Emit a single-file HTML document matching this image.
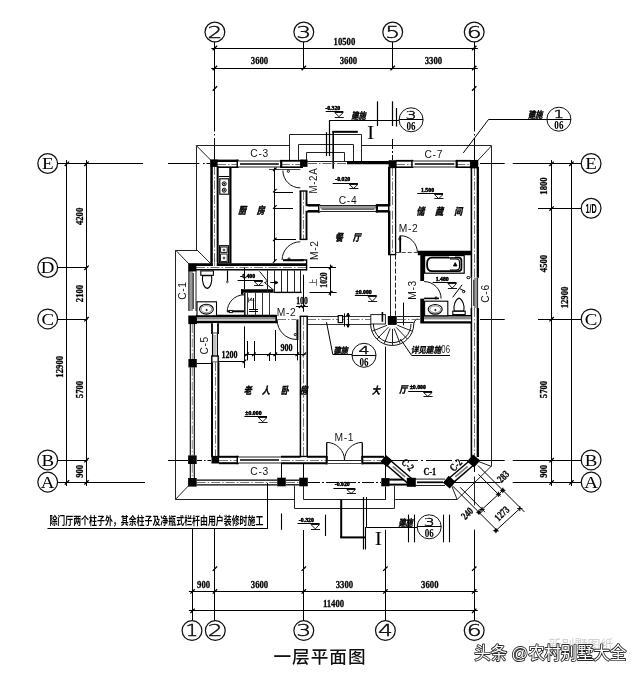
<!DOCTYPE html>
<html lang="zh"><head><meta charset="utf-8"><title>一层平面图</title>
<style>html,body{margin:0;padding:0;background:#fff}svg{display:block}</style></head>
<body><svg width="640" height="675" viewBox="0 0 640 675">
<defs><filter id="g" x="0" y="0" width="640" height="675" filterUnits="userSpaceOnUse" color-interpolation-filters="sRGB"><feColorMatrix type="saturate" values="0"/></filter></defs>
<rect width="640" height="675" fill="#fff"/>
<g filter="url(#g)">
<line x1="211.3" y1="48.5" x2="477.8" y2="48.5" stroke="#000" stroke-width="1"/>
<line x1="211.3" y1="68.5" x2="477.8" y2="68.5" stroke="#000" stroke-width="1"/>
<line x1="212.70000000000002" y1="70.2" x2="217.1" y2="65.8" stroke="#000" stroke-width="1.3"/>
<line x1="301.6" y1="70.2" x2="306.0" y2="65.8" stroke="#000" stroke-width="1.3"/>
<line x1="390.5" y1="70.2" x2="394.9" y2="65.8" stroke="#000" stroke-width="1.3"/>
<line x1="472.0" y1="70.2" x2="476.4" y2="65.8" stroke="#000" stroke-width="1.3"/>
<line x1="212.70000000000002" y1="50.2" x2="217.1" y2="45.8" stroke="#000" stroke-width="1.3"/>
<line x1="212.70000000000002" y1="90.7" x2="217.1" y2="86.3" stroke="#000" stroke-width="1.3"/>
<line x1="472.0" y1="50.2" x2="476.4" y2="45.8" stroke="#000" stroke-width="1.3"/>
<line x1="472.0" y1="90.7" x2="476.4" y2="86.3" stroke="#000" stroke-width="1.3"/>
<line x1="214.5" y1="41.5" x2="214.5" y2="131.5" stroke="#000" stroke-width="1"/>
<line x1="214.5" y1="134" x2="214.5" y2="135.5" stroke="#000" stroke-width="1"/>
<line x1="214.5" y1="138" x2="214.5" y2="160" stroke="#000" stroke-width="1"/>
<line x1="303.5" y1="41.5" x2="303.5" y2="68.5" stroke="#000" stroke-width="1"/>
<line x1="392.5" y1="41.5" x2="392.5" y2="68.5" stroke="#000" stroke-width="1"/>
<line x1="474.5" y1="41.5" x2="474.5" y2="131.5" stroke="#000" stroke-width="1"/>
<line x1="474.5" y1="134" x2="474.5" y2="135.5" stroke="#000" stroke-width="1"/>
<line x1="474.5" y1="138" x2="474.5" y2="160" stroke="#000" stroke-width="1"/>
<circle cx="214.9" cy="32" r="9.9" stroke="#111" stroke-width="1.25" fill="#fff"/>
<text transform="translate(214.9 37.7) scale(1.5 1)" font-family="&quot;DejaVu Sans&quot;,sans-serif" font-size="15.6" font-weight="200" font-style="normal" text-anchor="middle" fill="#000" stroke="#111" stroke-width="0.45">2</text>
<circle cx="303.8" cy="32" r="9.9" stroke="#111" stroke-width="1.25" fill="#fff"/>
<text transform="translate(303.8 37.7) scale(1.5 1)" font-family="&quot;DejaVu Sans&quot;,sans-serif" font-size="15.6" font-weight="200" font-style="normal" text-anchor="middle" fill="#000" stroke="#111" stroke-width="0.45">3</text>
<circle cx="392.7" cy="32" r="9.9" stroke="#111" stroke-width="1.25" fill="#fff"/>
<text transform="translate(392.7 37.7) scale(1.5 1)" font-family="&quot;DejaVu Sans&quot;,sans-serif" font-size="15.6" font-weight="200" font-style="normal" text-anchor="middle" fill="#000" stroke="#111" stroke-width="0.45">5</text>
<circle cx="474.2" cy="32" r="9.9" stroke="#111" stroke-width="1.25" fill="#fff"/>
<text transform="translate(474.2 37.7) scale(1.5 1)" font-family="&quot;DejaVu Sans&quot;,sans-serif" font-size="15.6" font-weight="200" font-style="normal" text-anchor="middle" fill="#000" stroke="#111" stroke-width="0.45">6</text>
<text transform="translate(344.4 44.5) scale(0.77 1)" font-family="&quot;Liberation Serif&quot;,&quot;Noto Serif CJK SC&quot;,serif" font-size="11.3" font-weight="bold" font-style="normal" text-anchor="middle" fill="#000" stroke="#000" stroke-width="0.3">10500</text>
<text transform="translate(259.5 64.3) scale(0.77 1)" font-family="&quot;Liberation Serif&quot;,&quot;Noto Serif CJK SC&quot;,serif" font-size="11.3" font-weight="bold" font-style="normal" text-anchor="middle" fill="#000" stroke="#000" stroke-width="0.3">3600</text>
<text transform="translate(348.4 64.3) scale(0.77 1)" font-family="&quot;Liberation Serif&quot;,&quot;Noto Serif CJK SC&quot;,serif" font-size="11.3" font-weight="bold" font-style="normal" text-anchor="middle" fill="#000" stroke="#000" stroke-width="0.3">3600</text>
<text transform="translate(433.4 64.3) scale(0.77 1)" font-family="&quot;Liberation Serif&quot;,&quot;Noto Serif CJK SC&quot;,serif" font-size="11.3" font-weight="bold" font-style="normal" text-anchor="middle" fill="#000" stroke="#000" stroke-width="0.3">3300</text>
<line x1="188.9" y1="591.5" x2="477.8" y2="591.5" stroke="#000" stroke-width="1"/>
<line x1="188.9" y1="610.5" x2="477.8" y2="610.5" stroke="#000" stroke-width="1"/>
<line x1="190.4" y1="593.6" x2="194.79999999999998" y2="589.1999999999999" stroke="#000" stroke-width="1.3"/>
<line x1="212.70000000000002" y1="593.6" x2="217.1" y2="589.1999999999999" stroke="#000" stroke-width="1.3"/>
<line x1="301.6" y1="593.6" x2="306.0" y2="589.1999999999999" stroke="#000" stroke-width="1.3"/>
<line x1="383.2" y1="593.6" x2="387.59999999999997" y2="589.1999999999999" stroke="#000" stroke-width="1.3"/>
<line x1="472.0" y1="593.6" x2="476.4" y2="589.1999999999999" stroke="#000" stroke-width="1.3"/>
<line x1="190.4" y1="613.0" x2="194.79999999999998" y2="608.5999999999999" stroke="#000" stroke-width="1.3"/>
<line x1="472.0" y1="613.0" x2="476.4" y2="608.5999999999999" stroke="#000" stroke-width="1.3"/>
<line x1="212.70000000000002" y1="570.9000000000001" x2="217.1" y2="566.5" stroke="#000" stroke-width="1.3"/>
<line x1="301.6" y1="570.9000000000001" x2="306.0" y2="566.5" stroke="#000" stroke-width="1.3"/>
<line x1="383.2" y1="570.9000000000001" x2="387.59999999999997" y2="566.5" stroke="#000" stroke-width="1.3"/>
<line x1="472.0" y1="570.9000000000001" x2="476.4" y2="566.5" stroke="#000" stroke-width="1.3"/>
<line x1="192.5" y1="529" x2="192.5" y2="621" stroke="#000" stroke-width="1"/>
<line x1="214.5" y1="529" x2="214.5" y2="621" stroke="#000" stroke-width="1"/>
<line x1="303.5" y1="530" x2="303.5" y2="621" stroke="#000" stroke-width="1"/>
<line x1="385.5" y1="529.8" x2="385.5" y2="621" stroke="#000" stroke-width="1"/>
<line x1="474.5" y1="529.6" x2="474.5" y2="621" stroke="#000" stroke-width="1"/>
<circle cx="192.0" cy="630.6" r="9.9" stroke="#111" stroke-width="1.25" fill="#fff"/>
<text transform="translate(192.0 636.3000000000001) scale(1.3 1)" font-family="&quot;DejaVu Sans&quot;,sans-serif" font-size="15.6" font-weight="200" font-style="normal" text-anchor="middle" fill="#000" stroke="#111" stroke-width="0.45">1</text>
<circle cx="215.3" cy="630.6" r="9.9" stroke="#111" stroke-width="1.25" fill="#fff"/>
<text transform="translate(215.3 636.3000000000001) scale(1.5 1)" font-family="&quot;DejaVu Sans&quot;,sans-serif" font-size="15.6" font-weight="200" font-style="normal" text-anchor="middle" fill="#000" stroke="#111" stroke-width="0.45">2</text>
<circle cx="303.8" cy="630.6" r="9.9" stroke="#111" stroke-width="1.25" fill="#fff"/>
<text transform="translate(303.8 636.3000000000001) scale(1.5 1)" font-family="&quot;DejaVu Sans&quot;,sans-serif" font-size="15.6" font-weight="200" font-style="normal" text-anchor="middle" fill="#000" stroke="#111" stroke-width="0.45">3</text>
<circle cx="385.4" cy="630.6" r="9.9" stroke="#111" stroke-width="1.25" fill="#fff"/>
<text transform="translate(385.4 636.3000000000001) scale(1.5 1)" font-family="&quot;DejaVu Sans&quot;,sans-serif" font-size="15.6" font-weight="200" font-style="normal" text-anchor="middle" fill="#000" stroke="#111" stroke-width="0.45">4</text>
<circle cx="474.2" cy="630.6" r="9.9" stroke="#111" stroke-width="1.25" fill="#fff"/>
<text transform="translate(474.2 636.3000000000001) scale(1.5 1)" font-family="&quot;DejaVu Sans&quot;,sans-serif" font-size="15.6" font-weight="200" font-style="normal" text-anchor="middle" fill="#000" stroke="#111" stroke-width="0.45">6</text>
<text transform="translate(203.6 587.8) scale(0.77 1)" font-family="&quot;Liberation Serif&quot;,&quot;Noto Serif CJK SC&quot;,serif" font-size="11.3" font-weight="bold" font-style="normal" text-anchor="middle" fill="#000" stroke="#000" stroke-width="0.3">900</text>
<text transform="translate(259.5 587.8) scale(0.77 1)" font-family="&quot;Liberation Serif&quot;,&quot;Noto Serif CJK SC&quot;,serif" font-size="11.3" font-weight="bold" font-style="normal" text-anchor="middle" fill="#000" stroke="#000" stroke-width="0.3">3600</text>
<text transform="translate(344.4 587.8) scale(0.77 1)" font-family="&quot;Liberation Serif&quot;,&quot;Noto Serif CJK SC&quot;,serif" font-size="11.3" font-weight="bold" font-style="normal" text-anchor="middle" fill="#000" stroke="#000" stroke-width="0.3">3300</text>
<text transform="translate(429.8 587.8) scale(0.77 1)" font-family="&quot;Liberation Serif&quot;,&quot;Noto Serif CJK SC&quot;,serif" font-size="11.3" font-weight="bold" font-style="normal" text-anchor="middle" fill="#000" stroke="#000" stroke-width="0.3">3600</text>
<text transform="translate(333.5 607) scale(0.77 1)" font-family="&quot;Liberation Serif&quot;,&quot;Noto Serif CJK SC&quot;,serif" font-size="11.3" font-weight="bold" font-style="normal" text-anchor="middle" fill="#000" stroke="#000" stroke-width="0.3">11400</text>
<line x1="66.5" y1="160.10000000000002" x2="66.5" y2="486.0" stroke="#000" stroke-width="1"/>
<line x1="86.5" y1="160.10000000000002" x2="86.5" y2="486.0" stroke="#000" stroke-width="1"/>
<line x1="84.3" y1="166.0" x2="88.7" y2="161.60000000000002" stroke="#000" stroke-width="1.3"/>
<line x1="84.3" y1="270.0" x2="88.7" y2="265.6" stroke="#000" stroke-width="1.3"/>
<line x1="84.3" y1="321.4" x2="88.7" y2="317.0" stroke="#000" stroke-width="1.3"/>
<line x1="84.3" y1="462.4" x2="88.7" y2="458.0" stroke="#000" stroke-width="1.3"/>
<line x1="84.3" y1="484.59999999999997" x2="88.7" y2="480.2" stroke="#000" stroke-width="1.3"/>
<line x1="64.7" y1="166.0" x2="69.10000000000001" y2="161.60000000000002" stroke="#000" stroke-width="1.3"/>
<line x1="64.7" y1="484.59999999999997" x2="69.10000000000001" y2="480.2" stroke="#000" stroke-width="1.3"/>
<line x1="57.5" y1="163.5" x2="143" y2="163.5" stroke="#000" stroke-width="1"/>
<line x1="168" y1="163.5" x2="199.4" y2="163.5" stroke="#000" stroke-width="1"/>
<line x1="203" y1="163.5" x2="204.6" y2="163.5" stroke="#000" stroke-width="1"/>
<line x1="206.5" y1="163.5" x2="210" y2="163.5" stroke="#000" stroke-width="1"/>
<line x1="57.5" y1="267.5" x2="87.5" y2="267.5" stroke="#000" stroke-width="1"/>
<line x1="57.5" y1="319.5" x2="87.5" y2="319.5" stroke="#000" stroke-width="1"/>
<line x1="57.5" y1="460.5" x2="87.5" y2="460.5" stroke="#000" stroke-width="1"/>
<line x1="168" y1="460.5" x2="188" y2="460.5" stroke="#000" stroke-width="1"/>
<line x1="57.5" y1="482.5" x2="145" y2="482.5" stroke="#000" stroke-width="1"/>
<circle cx="47.7" cy="163.5" r="9.9" stroke="#111" stroke-width="1.25" fill="#fff"/>
<text transform="translate(47.7 169.3) scale(1.1 1)" font-family="&quot;Liberation Serif&quot;,&quot;Noto Serif CJK SC&quot;,serif" font-size="17.2" font-weight="normal" font-style="normal" text-anchor="middle" fill="#000">E</text>
<circle cx="47.7" cy="267.5" r="9.9" stroke="#111" stroke-width="1.25" fill="#fff"/>
<text transform="translate(47.7 273.3) scale(1.1 1)" font-family="&quot;Liberation Serif&quot;,&quot;Noto Serif CJK SC&quot;,serif" font-size="17.2" font-weight="normal" font-style="normal" text-anchor="middle" fill="#000">D</text>
<circle cx="47.7" cy="318.9" r="9.9" stroke="#111" stroke-width="1.25" fill="#fff"/>
<text transform="translate(47.7 324.7) scale(1.1 1)" font-family="&quot;Liberation Serif&quot;,&quot;Noto Serif CJK SC&quot;,serif" font-size="17.2" font-weight="normal" font-style="normal" text-anchor="middle" fill="#000">C</text>
<circle cx="47.7" cy="459.9" r="9.9" stroke="#111" stroke-width="1.25" fill="#fff"/>
<text transform="translate(47.7 465.7) scale(1.1 1)" font-family="&quot;Liberation Serif&quot;,&quot;Noto Serif CJK SC&quot;,serif" font-size="17.2" font-weight="normal" font-style="normal" text-anchor="middle" fill="#000">B</text>
<circle cx="47.7" cy="482.09999999999997" r="9.9" stroke="#111" stroke-width="1.25" fill="#fff"/>
<text transform="translate(47.7 487.9) scale(1.1 1)" font-family="&quot;Liberation Serif&quot;,&quot;Noto Serif CJK SC&quot;,serif" font-size="17.2" font-weight="normal" font-style="normal" text-anchor="middle" fill="#000">A</text>
<text transform="translate(82.5 216.4) rotate(-90) scale(0.77 1)" font-family="&quot;Liberation Serif&quot;,&quot;Noto Serif CJK SC&quot;,serif" font-size="11.3" font-weight="bold" font-style="normal" text-anchor="middle" fill="#000" stroke="#000" stroke-width="0.3">4200</text>
<text transform="translate(82.5 293.5) rotate(-90) scale(0.77 1)" font-family="&quot;Liberation Serif&quot;,&quot;Noto Serif CJK SC&quot;,serif" font-size="11.3" font-weight="bold" font-style="normal" text-anchor="middle" fill="#000" stroke="#000" stroke-width="0.3">2100</text>
<text transform="translate(82.5 389.5) rotate(-90) scale(0.77 1)" font-family="&quot;Liberation Serif&quot;,&quot;Noto Serif CJK SC&quot;,serif" font-size="11.3" font-weight="bold" font-style="normal" text-anchor="middle" fill="#000" stroke="#000" stroke-width="0.3">5700</text>
<text transform="translate(82.5 471.3) rotate(-90) scale(0.77 1)" font-family="&quot;Liberation Serif&quot;,&quot;Noto Serif CJK SC&quot;,serif" font-size="11.3" font-weight="bold" font-style="normal" text-anchor="middle" fill="#000" stroke="#000" stroke-width="0.3">900</text>
<text transform="translate(62.8 366.8) rotate(-90) scale(0.77 1)" font-family="&quot;Liberation Serif&quot;,&quot;Noto Serif CJK SC&quot;,serif" font-size="11.3" font-weight="bold" font-style="normal" text-anchor="middle" fill="#000" stroke="#000" stroke-width="0.3">12900</text>
<line x1="551.5" y1="160.10000000000002" x2="551.5" y2="486.0" stroke="#000" stroke-width="1"/>
<line x1="571.5" y1="160.10000000000002" x2="571.5" y2="486.0" stroke="#000" stroke-width="1"/>
<line x1="549.4" y1="166.0" x2="553.8000000000001" y2="161.60000000000002" stroke="#000" stroke-width="1.3"/>
<line x1="549.4" y1="210.79999999999998" x2="553.8000000000001" y2="206.4" stroke="#000" stroke-width="1.3"/>
<line x1="549.4" y1="321.4" x2="553.8000000000001" y2="317.0" stroke="#000" stroke-width="1.3"/>
<line x1="549.4" y1="462.4" x2="553.8000000000001" y2="458.0" stroke="#000" stroke-width="1.3"/>
<line x1="549.4" y1="484.59999999999997" x2="553.8000000000001" y2="480.2" stroke="#000" stroke-width="1.3"/>
<line x1="569.1999999999999" y1="166.0" x2="573.6" y2="161.60000000000002" stroke="#000" stroke-width="1.3"/>
<line x1="569.1999999999999" y1="484.59999999999997" x2="573.6" y2="480.2" stroke="#000" stroke-width="1.3"/>
<line x1="512.7" y1="163.5" x2="581" y2="163.5" stroke="#000" stroke-width="1"/>
<line x1="480" y1="163.5" x2="504.7" y2="163.5" stroke="#000" stroke-width="1"/>
<line x1="538" y1="208.5" x2="581" y2="208.5" stroke="#000" stroke-width="1"/>
<line x1="538" y1="319.5" x2="581" y2="319.5" stroke="#000" stroke-width="1"/>
<line x1="480" y1="319.5" x2="504.7" y2="319.5" stroke="#000" stroke-width="1"/>
<line x1="512.7" y1="460.5" x2="581" y2="460.5" stroke="#000" stroke-width="1"/>
<line x1="479" y1="460.5" x2="504.7" y2="460.5" stroke="#000" stroke-width="1"/>
<line x1="512.7" y1="482.5" x2="581" y2="482.5" stroke="#000" stroke-width="1"/>
<line x1="454" y1="482.5" x2="500.3" y2="482.5" stroke="#000" stroke-width="1"/>
<circle cx="591.1" cy="163.5" r="9.9" stroke="#111" stroke-width="1.25" fill="#fff"/>
<text transform="translate(591.1 169.3) scale(1.1 1)" font-family="&quot;Liberation Serif&quot;,&quot;Noto Serif CJK SC&quot;,serif" font-size="17.2" font-weight="normal" font-style="normal" text-anchor="middle" fill="#000">E</text>
<circle cx="591.1" cy="318.9" r="9.9" stroke="#111" stroke-width="1.25" fill="#fff"/>
<text transform="translate(591.1 324.7) scale(1.1 1)" font-family="&quot;Liberation Serif&quot;,&quot;Noto Serif CJK SC&quot;,serif" font-size="17.2" font-weight="normal" font-style="normal" text-anchor="middle" fill="#000">C</text>
<circle cx="591.1" cy="459.9" r="9.9" stroke="#111" stroke-width="1.25" fill="#fff"/>
<text transform="translate(591.1 465.7) scale(1.1 1)" font-family="&quot;Liberation Serif&quot;,&quot;Noto Serif CJK SC&quot;,serif" font-size="17.2" font-weight="normal" font-style="normal" text-anchor="middle" fill="#000">B</text>
<circle cx="591.1" cy="482.09999999999997" r="9.9" stroke="#111" stroke-width="1.25" fill="#fff"/>
<text transform="translate(591.1 487.9) scale(1.1 1)" font-family="&quot;Liberation Serif&quot;,&quot;Noto Serif CJK SC&quot;,serif" font-size="17.2" font-weight="normal" font-style="normal" text-anchor="middle" fill="#000">A</text>
<circle cx="591.1" cy="208.29999999999998" r="9.9" stroke="#111" stroke-width="1.25" fill="#fff"/>
<text transform="translate(591.1 212.6) scale(0.6 1)" font-family="&quot;Liberation Sans&quot;,&quot;Noto Sans CJK SC&quot;,sans-serif" font-size="12" font-weight="bold" font-style="normal" text-anchor="middle" fill="#000">1/D</text>
<text transform="translate(547.4 186) rotate(-90) scale(0.77 1)" font-family="&quot;Liberation Serif&quot;,&quot;Noto Serif CJK SC&quot;,serif" font-size="11.3" font-weight="bold" font-style="normal" text-anchor="middle" fill="#000" stroke="#000" stroke-width="0.3">1800</text>
<text transform="translate(547.4 263.5) rotate(-90) scale(0.77 1)" font-family="&quot;Liberation Serif&quot;,&quot;Noto Serif CJK SC&quot;,serif" font-size="11.3" font-weight="bold" font-style="normal" text-anchor="middle" fill="#000" stroke="#000" stroke-width="0.3">4500</text>
<text transform="translate(547.4 389.5) rotate(-90) scale(0.77 1)" font-family="&quot;Liberation Serif&quot;,&quot;Noto Serif CJK SC&quot;,serif" font-size="11.3" font-weight="bold" font-style="normal" text-anchor="middle" fill="#000" stroke="#000" stroke-width="0.3">5700</text>
<text transform="translate(547.4 471.3) rotate(-90) scale(0.77 1)" font-family="&quot;Liberation Serif&quot;,&quot;Noto Serif CJK SC&quot;,serif" font-size="11.3" font-weight="bold" font-style="normal" text-anchor="middle" fill="#000" stroke="#000" stroke-width="0.3">900</text>
<text transform="translate(567.8 297.5) rotate(-90) scale(0.77 1)" font-family="&quot;Liberation Serif&quot;,&quot;Noto Serif CJK SC&quot;,serif" font-size="11.3" font-weight="bold" font-style="normal" text-anchor="middle" fill="#000" stroke="#000" stroke-width="0.3">12900</text>
<text transform="translate(320 663)" font-family="&quot;Liberation Sans&quot;,&quot;Noto Sans CJK SC&quot;,sans-serif" font-size="17.6" font-weight="500" font-style="normal" text-anchor="middle" fill="#111" letter-spacing="1.0">一层平面图</text>
<text transform="translate(581 648.5)" font-family="&quot;Liberation Sans&quot;,&quot;Noto Sans CJK SC&quot;,sans-serif" font-size="13" font-weight="normal" font-style="normal" text-anchor="middle" fill="#d0d0d0">新别墅图纸</text>
<text transform="translate(550.3 659.2) scale(0.945 1)" font-family="&quot;Liberation Sans&quot;,&quot;Noto Sans CJK SC&quot;,sans-serif" font-size="17.3" font-weight="normal" font-style="normal" text-anchor="middle" fill="#fff" stroke="#2a2a2a" stroke-width="1.8" paint-order="stroke" stroke-linejoin="round">头条 @农村别墅大全</text>
<path d="M196.5 250 L196.5 145.5 L289.2 145.5" stroke="#222" stroke-width="1" fill="none"/>
<line x1="361.6" y1="145.5" x2="491.6" y2="145.5" stroke="#222" stroke-width="1"/>
<path d="M491.5 145.8 L491.5 466 L457.1 499.5 L395.2 499.5" stroke="#222" stroke-width="1" fill="none"/>
<line x1="196.5" y1="145.8" x2="210.8" y2="160.2" stroke="#222" stroke-width="1"/>
<line x1="477.8" y1="160.5" x2="491.6" y2="145.8" stroke="#222" stroke-width="1"/>
<path d="M197 250.5 L175.5 250.5 L175.5 499.5 L294.8 499.5" stroke="#222" stroke-width="1" fill="none"/>
<line x1="197" y1="250" x2="211.6" y2="264.5" stroke="#222" stroke-width="1"/>
<line x1="175.5" y1="250" x2="189" y2="264" stroke="#222" stroke-width="1"/>
<line x1="175.5" y1="499.3" x2="188.3" y2="486" stroke="#222" stroke-width="1"/>
<line x1="478.5" y1="461.5" x2="491.6" y2="466.5" stroke="#222" stroke-width="1"/>
<line x1="452" y1="486.7" x2="457.1" y2="499.3" stroke="#222" stroke-width="1"/>
<path d="M289.5 160 L289.5 134.5 L361.5 134.5 L361.5 161" stroke="#222" stroke-width="1" fill="none"/>
<path d="M298.5 160 L298.5 144.5 L353.5 144.5 L353.5 161" stroke="#222" stroke-width="1" fill="none"/>
<path d="M306.5 160 L306.5 152.5 L344.5 152.5 L344.5 161" stroke="#222" stroke-width="1" fill="none"/>
<line x1="326.5" y1="132.2" x2="326.5" y2="156.1" stroke="#000" stroke-width="1.2"/>
<line x1="329.5" y1="120.2" x2="329.5" y2="156.1" stroke="#000" stroke-width="1.2"/>
<line x1="329.4" y1="120.5" x2="399" y2="120.5" stroke="#000" stroke-width="1"/>
<line x1="332.4" y1="131.8" x2="357.8" y2="131.8" stroke="#000" stroke-width="2.0"/>
<line x1="333.2" y1="131" x2="333.2" y2="168.7" stroke="#000" stroke-width="1.6"/>
<line x1="325.7" y1="111.5" x2="343.3" y2="111.5" stroke="#000" stroke-width="1"/>
<text transform="translate(332.74 109.60000000000001)" font-family="&quot;Liberation Serif&quot;,&quot;Noto Serif CJK SC&quot;,serif" font-size="5.8" font-weight="bold" font-style="normal" text-anchor="middle" fill="#000" stroke="#000" stroke-width="0.5">-0.320</text>
<path d="M334.7 112.5 L343.3 112.5 L339.0 116.7 Z" stroke="#000" stroke-width="0.9" fill="none"/>
<line x1="334.7" y1="117.5" x2="343.8" y2="117.5" stroke="#000" stroke-width="0.9"/>
<text transform="translate(358.5 118.7) scale(0.8 1)" font-family="&quot;Liberation Sans&quot;,&quot;Noto Sans CJK SC&quot;,sans-serif" font-size="9.13" font-weight="bold" font-style="italic" text-anchor="middle" fill="#000" stroke="#000" stroke-width="0.4">建施</text>
<text transform="translate(370.6 138.6) scale(1.15 1)" font-family="&quot;Liberation Serif&quot;,&quot;Noto Serif CJK SC&quot;,serif" font-size="19" font-weight="normal" font-style="normal" text-anchor="middle" fill="#000">I</text>
<line x1="377.5" y1="101.3" x2="377.5" y2="126" stroke="#000" stroke-width="1.2"/>
<line x1="392.5" y1="101.3" x2="392.5" y2="126" stroke="#000" stroke-width="1.2"/>
<line x1="396.5" y1="108" x2="396.5" y2="126.5" stroke="#000" stroke-width="1.2"/>
<line x1="392.5" y1="139" x2="392.5" y2="160" stroke="#000" stroke-width="1" stroke-dasharray="10 2 2 2"/>
<circle cx="411.1" cy="119.8" r="12" stroke="#111" stroke-width="1" fill="#fff"/>
<line x1="399.1" y1="119.5" x2="423.1" y2="119.5" stroke="#000" stroke-width="1"/>
<text transform="translate(411.1 118.5) scale(1.55 1)" font-family="&quot;DejaVu Sans&quot;,&quot;Liberation Sans&quot;,sans-serif" font-size="11.3" font-weight="200" font-style="normal" text-anchor="middle" fill="#000" stroke="#111" stroke-width="0.4">3</text>
<text transform="translate(411.1 130.0) scale(0.7 1)" font-family="&quot;Liberation Serif&quot;,&quot;Noto Serif CJK SC&quot;,serif" font-size="13" font-weight="bold" font-style="normal" text-anchor="middle" fill="#000">06</text>
<path d="M463.3 152.9 L488.5 119.5 L547 119.5" stroke="#000" stroke-width="1" fill="none"/>
<text transform="translate(535.2 117.60000000000001) scale(0.8 1)" font-family="&quot;Liberation Sans&quot;,&quot;Noto Sans CJK SC&quot;,sans-serif" font-size="9.13" font-weight="bold" font-style="italic" text-anchor="middle" fill="#000" stroke="#000" stroke-width="0.4">建施</text>
<circle cx="558.9" cy="119.2" r="12" stroke="#111" stroke-width="1" fill="#fff"/>
<line x1="546.9" y1="119.5" x2="570.9" y2="119.5" stroke="#000" stroke-width="1"/>
<text transform="translate(558.9 117.9) scale(1.55 1)" font-family="&quot;DejaVu Sans&quot;,&quot;Liberation Sans&quot;,sans-serif" font-size="11.3" font-weight="200" font-style="normal" text-anchor="middle" fill="#000" stroke="#111" stroke-width="0.4">1</text>
<text transform="translate(558.9 129.4) scale(0.7 1)" font-family="&quot;Liberation Serif&quot;,&quot;Noto Serif CJK SC&quot;,serif" font-size="13" font-weight="bold" font-style="normal" text-anchor="middle" fill="#000">06</text>
<rect x="217" y="160.8" width="21" height="6.4" fill="#fff" stroke="none" stroke-width="1"/>
<line x1="217" y1="160.8" x2="238" y2="160.8" stroke="#000" stroke-width="2.4"/>
<line x1="217" y1="167.2" x2="238" y2="167.2" stroke="#000" stroke-width="1.6"/>
<line x1="217" y1="164.5" x2="238" y2="164.5" stroke="#555" stroke-width="0.8" stroke-dasharray="9 2 1.5 2"/>
<line x1="237.6" y1="159.60000000000002" x2="237.6" y2="168.0" stroke="#000" stroke-width="2.2"/>
<rect x="238" y="161.0" width="42.80000000000001" height="6.0" fill="#fff" stroke="none" stroke-width="1"/>
<line x1="238" y1="161.0" x2="280.8" y2="161.0" stroke="#222" stroke-width="1"/>
<line x1="238" y1="167.0" x2="280.8" y2="167.0" stroke="#222" stroke-width="1"/>
<line x1="240" y1="164.0" x2="278.8" y2="164.0" stroke="#000" stroke-width="1.7"/>
<rect x="280.8" y="160.8" width="22.19999999999999" height="6.4" fill="#fff" stroke="none" stroke-width="1"/>
<line x1="280.8" y1="160.8" x2="303" y2="160.8" stroke="#000" stroke-width="1.8"/>
<line x1="280.8" y1="167.2" x2="303" y2="167.2" stroke="#000" stroke-width="1.6"/>
<line x1="280.8" y1="164.5" x2="303" y2="164.5" stroke="#555" stroke-width="0.8" stroke-dasharray="9 2 1.5 2"/>
<line x1="281.2" y1="159.9" x2="281.2" y2="168.0" stroke="#000" stroke-width="2.2"/>
<line x1="306.6" y1="161.5" x2="347" y2="161.5" stroke="#222" stroke-width="1"/>
<line x1="308" y1="163.5" x2="347" y2="163.5" stroke="#666" stroke-width="1" stroke-dasharray="9 2 1.5 2"/>
<line x1="347" y1="162.6" x2="389" y2="162.6" stroke="#000" stroke-width="3.4"/>
<rect x="396" y="160.8" width="16.69999999999999" height="6.4" fill="#fff" stroke="none" stroke-width="1"/>
<line x1="396" y1="160.8" x2="412.7" y2="160.8" stroke="#000" stroke-width="1.8"/>
<line x1="396" y1="167.2" x2="412.7" y2="167.2" stroke="#000" stroke-width="1.6"/>
<line x1="396" y1="164.5" x2="412.7" y2="164.5" stroke="#555" stroke-width="0.8" stroke-dasharray="9 2 1.5 2"/>
<line x1="412.3" y1="159.9" x2="412.3" y2="168.0" stroke="#000" stroke-width="2.2"/>
<rect x="412.7" y="161.0" width="43.60000000000002" height="6.0" fill="#fff" stroke="none" stroke-width="1"/>
<line x1="412.7" y1="161.0" x2="456.3" y2="161.0" stroke="#222" stroke-width="1"/>
<line x1="412.7" y1="167.0" x2="456.3" y2="167.0" stroke="#222" stroke-width="1"/>
<line x1="414.7" y1="164.0" x2="454.3" y2="164.0" stroke="#000" stroke-width="1.7"/>
<rect x="456.3" y="160.8" width="14.699999999999989" height="6.4" fill="#fff" stroke="none" stroke-width="1"/>
<line x1="456.3" y1="160.8" x2="471" y2="160.8" stroke="#000" stroke-width="1.8"/>
<line x1="456.3" y1="167.2" x2="471" y2="167.2" stroke="#000" stroke-width="1.6"/>
<line x1="456.3" y1="164.5" x2="471" y2="164.5" stroke="#555" stroke-width="0.8" stroke-dasharray="9 2 1.5 2"/>
<line x1="456.7" y1="159.9" x2="456.7" y2="168.0" stroke="#000" stroke-width="2.2"/>
<rect x="211.54999999999998" y="166" width="6.1" height="98" fill="#fff" stroke="none" stroke-width="1"/>
<line x1="211.54999999999998" y1="166" x2="211.54999999999998" y2="264" stroke="#000" stroke-width="2.5"/>
<line x1="217.65" y1="166" x2="217.65" y2="264" stroke="#000" stroke-width="2.0"/>
<line x1="214.5" y1="166" x2="214.5" y2="264" stroke="#555" stroke-width="0.8" stroke-dasharray="9 2 1.5 2"/>
<rect x="300.5" y="191" width="6.0" height="48.400000000000006" fill="#fff" stroke="none" stroke-width="1"/>
<line x1="300.5" y1="191" x2="300.5" y2="239.4" stroke="#000" stroke-width="1.9"/>
<line x1="306.5" y1="191" x2="306.5" y2="239.4" stroke="#000" stroke-width="1.9"/>
<line x1="303.5" y1="191" x2="303.5" y2="239.4" stroke="#555" stroke-width="0.8" stroke-dasharray="9 2 1.5 2"/>
<line x1="299.55" y1="191" x2="307.45" y2="191" stroke="#000" stroke-width="1.4"/>
<line x1="299.55" y1="239.4" x2="307.45" y2="239.4" stroke="#000" stroke-width="1.4"/>
<rect x="306.5" y="205.3" width="13.0" height="6.0" fill="#fff" stroke="none" stroke-width="1"/>
<line x1="306.5" y1="205.3" x2="319.5" y2="205.3" stroke="#000" stroke-width="2.5"/>
<line x1="306.5" y1="211.3" x2="319.5" y2="211.3" stroke="#000" stroke-width="2.5"/>
<line x1="319.1" y1="204.05" x2="319.1" y2="212.55" stroke="#000" stroke-width="2.2"/>
<rect x="304.2" y="206.3" width="3.5" height="4.4" fill="#fff" stroke="none" stroke-width="1"/>
<rect x="319.5" y="205.5" width="57.0" height="6.0" fill="#fff" stroke="none" stroke-width="1"/>
<rect x="319.5" y="205.5" width="57.0" height="3.0" fill="#999" stroke="none" stroke-width="1"/>
<line x1="319.5" y1="205.5" x2="376.5" y2="205.5" stroke="#222" stroke-width="1"/>
<line x1="319.5" y1="211.5" x2="376.5" y2="211.5" stroke="#222" stroke-width="1"/>
<line x1="321.5" y1="209.1" x2="374.5" y2="209.1" stroke="#000" stroke-width="1.0"/>
<rect x="376.5" y="205.3" width="13.0" height="6.0" fill="#fff" stroke="none" stroke-width="1"/>
<line x1="376.5" y1="205.3" x2="389.5" y2="205.3" stroke="#000" stroke-width="2.5"/>
<line x1="376.5" y1="211.3" x2="389.5" y2="211.3" stroke="#000" stroke-width="2.5"/>
<line x1="376.9" y1="204.05" x2="376.9" y2="212.55" stroke="#000" stroke-width="2.2"/>
<rect x="389.2" y="167" width="6.4" height="87.6" fill="#fff" stroke="none" stroke-width="1"/>
<line x1="389.2" y1="167" x2="389.2" y2="254.6" stroke="#000" stroke-width="2.4"/>
<line x1="395.59999999999997" y1="167" x2="395.59999999999997" y2="254.6" stroke="#000" stroke-width="1.3"/>
<line x1="392.5" y1="167" x2="392.5" y2="254.6" stroke="#555" stroke-width="0.8" stroke-dasharray="9 2 1.5 2"/>
<line x1="388.0" y1="254.6" x2="396.24999999999994" y2="254.6" stroke="#000" stroke-width="1.4"/>
<rect x="389.5" y="206.3" width="3.2" height="4.4" fill="#fff" stroke="none" stroke-width="1"/>
<line x1="390.5" y1="254.6" x2="390.5" y2="316" stroke="#222" stroke-width="1"/>
<line x1="395.5" y1="254.6" x2="395.5" y2="316" stroke="#222" stroke-width="1" stroke-dasharray="5 2"/>
<rect x="471.40000000000003" y="167" width="6.4" height="110.80000000000001" fill="#fff" stroke="none" stroke-width="1"/>
<line x1="471.40000000000003" y1="167" x2="471.40000000000003" y2="277.8" stroke="#000" stroke-width="1.6"/>
<line x1="477.8" y1="167" x2="477.8" y2="277.8" stroke="#000" stroke-width="2.3"/>
<line x1="474.5" y1="167" x2="474.5" y2="277.8" stroke="#555" stroke-width="0.8" stroke-dasharray="9 2 1.5 2"/>
<rect x="471.6" y="277.8" width="6.0" height="30.19999999999999" fill="#fff" stroke="none" stroke-width="1"/>
<rect x="474.0" y="277.8" width="3.6" height="30.19999999999999" fill="#999" stroke="none" stroke-width="1"/>
<line x1="471.6" y1="277.8" x2="471.6" y2="308" stroke="#222" stroke-width="1"/>
<line x1="477.6" y1="277.8" x2="477.6" y2="308" stroke="#222" stroke-width="1"/>
<line x1="473.8" y1="279.8" x2="473.8" y2="306" stroke="#000" stroke-width="1.0"/>
<rect x="471.40000000000003" y="308" width="6.4" height="149" fill="#fff" stroke="none" stroke-width="1"/>
<line x1="471.40000000000003" y1="308" x2="471.40000000000003" y2="457" stroke="#000" stroke-width="1.6"/>
<line x1="477.8" y1="308" x2="477.8" y2="457" stroke="#000" stroke-width="2.3"/>
<line x1="474.5" y1="308" x2="474.5" y2="457" stroke="#555" stroke-width="0.8" stroke-dasharray="9 2 1.5 2"/>
<rect x="196" y="264.7" width="110.60000000000002" height="5.0" fill="#fff" stroke="none" stroke-width="1"/>
<line x1="196" y1="264.7" x2="306.6" y2="264.7" stroke="#000" stroke-width="2.7"/>
<line x1="196" y1="269.7" x2="306.6" y2="269.7" stroke="#000" stroke-width="1.5"/>
<line x1="196" y1="267.5" x2="306.6" y2="267.5" stroke="#555" stroke-width="0.8" stroke-dasharray="9 2 1.5 2"/>
<path d="M300.3 260 L306.6 260 L306.6 270.4" stroke="#000" stroke-width="1.4" fill="none"/>
<rect x="212.9" y="262" width="3.8" height="4.2" fill="#fff" stroke="none" stroke-width="1"/>
<line x1="214.6" y1="258" x2="214.6" y2="266" stroke="#555" stroke-width="0.8"/>
<rect x="188.8" y="271" width="7.2" height="40" fill="#fff" stroke="none" stroke-width="1"/>
<rect x="188.8" y="271" width="4.2" height="40" fill="#999" stroke="none" stroke-width="1"/>
<line x1="188.8" y1="271" x2="188.8" y2="311" stroke="#222" stroke-width="1"/>
<line x1="196.0" y1="271" x2="196.0" y2="311" stroke="#222" stroke-width="1"/>
<line x1="193.20000000000002" y1="273" x2="193.20000000000002" y2="309" stroke="#000" stroke-width="1.0"/>
<rect x="196" y="315" width="80.6" height="8" fill="#fff" stroke="none" stroke-width="1"/>
<rect x="196" y="316.8" width="80.6" height="2.7" fill="#8a8a8a" stroke="none" stroke-width="1"/>
<line x1="196" y1="315.8" x2="276.6" y2="315.8" stroke="#000" stroke-width="2.2"/>
<line x1="196" y1="322.1" x2="276.6" y2="322.1" stroke="#000" stroke-width="2.5"/>
<line x1="276.2" y1="315" x2="276.2" y2="323.3" stroke="#000" stroke-width="1.6"/>
<line x1="307" y1="316.5" x2="371" y2="316.5" stroke="#333" stroke-width="1"/>
<line x1="307" y1="324.5" x2="371" y2="324.5" stroke="#333" stroke-width="1"/>
<line x1="307" y1="319.5" x2="371" y2="319.5" stroke="#555" stroke-width="0.8" stroke-dasharray="9 2 1.5 2"/>
<rect x="300.40000000000003" y="316.3" width="6.8" height="140.7" fill="#fff" stroke="none" stroke-width="1"/>
<line x1="300.40000000000003" y1="316.3" x2="300.40000000000003" y2="457" stroke="#000" stroke-width="1.5"/>
<line x1="307.2" y1="316.3" x2="307.2" y2="457" stroke="#000" stroke-width="1.5"/>
<line x1="303.5" y1="316.3" x2="303.5" y2="457" stroke="#555" stroke-width="0.8" stroke-dasharray="9 2 1.5 2"/>
<line x1="299.65000000000003" y1="316.3" x2="307.95" y2="316.3" stroke="#000" stroke-width="1.4"/>
<rect x="212.0" y="323.2" width="6.0" height="10.100000000000023" fill="#fff" stroke="none" stroke-width="1"/>
<line x1="212.0" y1="323.2" x2="212.0" y2="333.3" stroke="#000" stroke-width="1.8"/>
<line x1="218.0" y1="323.2" x2="218.0" y2="333.3" stroke="#000" stroke-width="1.8"/>
<line x1="211.1" y1="333.3" x2="218.9" y2="333.3" stroke="#000" stroke-width="1.4"/>
<rect x="212.4" y="333.3" width="5.2" height="22.7" fill="#fff" stroke="none" stroke-width="1"/>
<line x1="212.6" y1="333.3" x2="212.6" y2="356" stroke="#000" stroke-width="1.3"/>
<line x1="217.4" y1="333.3" x2="217.4" y2="356" stroke="#000" stroke-width="1.1"/>
<line x1="215" y1="335" x2="215" y2="355" stroke="#666" stroke-width="0.8"/>
<rect x="211.8" y="356" width="6.4" height="6.3" fill="#fff" stroke="#000" stroke-width="1.4"/>
<rect x="212.0" y="362.3" width="6.4" height="94.69999999999999" fill="#fff" stroke="none" stroke-width="1"/>
<line x1="212.0" y1="362.3" x2="212.0" y2="457" stroke="#000" stroke-width="2.0"/>
<line x1="218.39999999999998" y1="362.3" x2="218.39999999999998" y2="457" stroke="#000" stroke-width="2.0"/>
<line x1="215.5" y1="362.3" x2="215.5" y2="457" stroke="#555" stroke-width="0.8" stroke-dasharray="9 2 1.5 2"/>
<rect x="219" y="456.8" width="19" height="6.4" fill="#fff" stroke="none" stroke-width="1"/>
<line x1="219" y1="456.8" x2="238" y2="456.8" stroke="#000" stroke-width="2.0"/>
<line x1="219" y1="463.2" x2="238" y2="463.2" stroke="#000" stroke-width="2.0"/>
<line x1="219" y1="460.5" x2="238" y2="460.5" stroke="#555" stroke-width="0.8" stroke-dasharray="9 2 1.5 2"/>
<line x1="237.6" y1="455.8" x2="237.6" y2="464.2" stroke="#000" stroke-width="2.2"/>
<rect x="238" y="457.0" width="43" height="6.0" fill="#fff" stroke="none" stroke-width="1"/>
<line x1="238" y1="457.0" x2="281" y2="457.0" stroke="#222" stroke-width="1"/>
<line x1="238" y1="463.0" x2="281" y2="463.0" stroke="#222" stroke-width="1"/>
<line x1="240" y1="460.0" x2="279" y2="460.0" stroke="#000" stroke-width="1.7"/>
<rect x="281" y="456.8" width="45.69999999999999" height="6.4" fill="#fff" stroke="none" stroke-width="1"/>
<line x1="281" y1="456.8" x2="326.7" y2="456.8" stroke="#000" stroke-width="2.0"/>
<line x1="281" y1="463.2" x2="326.7" y2="463.2" stroke="#000" stroke-width="2.0"/>
<line x1="281" y1="460.5" x2="326.7" y2="460.5" stroke="#555" stroke-width="0.8" stroke-dasharray="9 2 1.5 2"/>
<line x1="326.7" y1="456" x2="326.7" y2="464.4" stroke="#000" stroke-width="2"/>
<rect x="362.3" y="456.8" width="21.69999999999999" height="6.4" fill="#fff" stroke="none" stroke-width="1"/>
<line x1="362.3" y1="456.8" x2="384" y2="456.8" stroke="#000" stroke-width="2.0"/>
<line x1="362.3" y1="463.2" x2="384" y2="463.2" stroke="#000" stroke-width="2.0"/>
<line x1="362.3" y1="460.5" x2="384" y2="460.5" stroke="#555" stroke-width="0.8" stroke-dasharray="9 2 1.5 2"/>
<line x1="362.3" y1="456" x2="362.3" y2="464.4" stroke="#000" stroke-width="2"/>
<rect x="300.6" y="457.2" width="6.4" height="2.8" fill="#fff" stroke="none" stroke-width="1"/>
<line x1="417.8" y1="253" x2="471" y2="253" stroke="#000" stroke-width="4.4"/>
<line x1="422.2" y1="251" x2="422.2" y2="281" stroke="#000" stroke-width="3.8"/>
<line x1="422.2" y1="298.6" x2="422.2" y2="322" stroke="#000" stroke-width="3.8"/>
<rect x="424" y="315" width="47" height="8" fill="#fff" stroke="none" stroke-width="1"/>
<rect x="424" y="316.8" width="47" height="2.6" fill="#8a8a8a" stroke="none" stroke-width="1"/>
<line x1="424" y1="315.8" x2="471" y2="315.8" stroke="#000" stroke-width="1.6"/>
<line x1="420.3" y1="322.3" x2="471" y2="322.3" stroke="#000" stroke-width="2.2"/>
<line x1="190.3" y1="324" x2="190.3" y2="359" stroke="#000" stroke-width="1.1"/>
<line x1="194.3" y1="324" x2="194.3" y2="359" stroke="#000" stroke-width="1.1"/>
<line x1="192.3" y1="324" x2="192.3" y2="359" stroke="#555" stroke-width="0.7" stroke-dasharray="9 2 1.5 2"/>
<line x1="190.3" y1="367.3" x2="190.3" y2="455.6" stroke="#000" stroke-width="1.1"/>
<line x1="194.3" y1="367.3" x2="194.3" y2="455.6" stroke="#000" stroke-width="1.1"/>
<line x1="192.3" y1="367.3" x2="192.3" y2="455.6" stroke="#555" stroke-width="0.7" stroke-dasharray="9 2 1.5 2"/>
<line x1="190.3" y1="463.8" x2="190.3" y2="478.2" stroke="#000" stroke-width="1.1"/>
<line x1="194.3" y1="463.8" x2="194.3" y2="478.2" stroke="#000" stroke-width="1.1"/>
<line x1="192.3" y1="463.8" x2="192.3" y2="478.2" stroke="#555" stroke-width="0.7" stroke-dasharray="9 2 1.5 2"/>
<line x1="197" y1="363.5" x2="211.6" y2="363.5" stroke="#000" stroke-width="1"/>
<line x1="196.7" y1="480.2" x2="277" y2="480.2" stroke="#000" stroke-width="1.3"/>
<line x1="196.7" y1="484.8" x2="277" y2="484.8" stroke="#000" stroke-width="1.3"/>
<line x1="196.7" y1="482.5" x2="277" y2="482.5" stroke="#555" stroke-width="0.8" stroke-dasharray="9 2 1.5 2"/>
<line x1="286" y1="480.2" x2="299" y2="480.2" stroke="#000" stroke-width="1.3"/>
<line x1="286" y1="484.8" x2="299" y2="484.8" stroke="#000" stroke-width="1.3"/>
<line x1="286" y1="482.5" x2="299" y2="482.5" stroke="#555" stroke-width="0.8" stroke-dasharray="9 2 1.5 2"/>
<line x1="308" y1="482.5" x2="381" y2="482.5" stroke="#000" stroke-width="1" stroke-dasharray="12 2 2 2"/>
<line x1="281.5" y1="463.4" x2="281.5" y2="478" stroke="#000" stroke-width="1"/>
<line x1="303.5" y1="463.4" x2="303.5" y2="478" stroke="#000" stroke-width="1"/>
<line x1="389" y1="479.6" x2="407" y2="479.6" stroke="#000" stroke-width="2"/>
<line x1="389" y1="484.6" x2="407" y2="484.6" stroke="#000" stroke-width="2"/>
<rect x="415" y="479.1" width="30" height="6.4" fill="#fff" stroke="none" stroke-width="1"/>
<line x1="415" y1="479.1" x2="445" y2="479.1" stroke="#222" stroke-width="1"/>
<line x1="415" y1="485.5" x2="445" y2="485.5" stroke="#222" stroke-width="1"/>
<line x1="417" y1="482.3" x2="443" y2="482.3" stroke="#000" stroke-width="1.7"/>
<path d="M384.5453596583048 463.2758253743681 L409.3453596583048 484.5758253743681 L413.2546403416952 480.02417462563193 L388.4546403416952 458.7241746256319 Z" stroke="#fff" stroke-width="0.1" fill="#fff"/>
<line x1="384.5453596583048" y1="463.2758253743681" x2="409.3453596583048" y2="484.5758253743681" stroke="#000" stroke-width="1.5"/>
<line x1="388.4546403416952" y1="458.7241746256319" x2="413.2546403416952" y2="480.02417462563193" stroke="#000" stroke-width="1.5"/>
<line x1="392.7" y1="466.325" x2="405.1" y2="476.975" stroke="#777" stroke-width="1.6"/>
<path d="M471.8453596583048 458.7241746256319 L447.0453596583048 480.02417462563193 L450.9546403416952 484.5758253743681 L475.7546403416952 463.2758253743681 Z" stroke="#fff" stroke-width="0.1" fill="#fff"/>
<line x1="471.8453596583048" y1="458.7241746256319" x2="447.0453596583048" y2="480.02417462563193" stroke="#000" stroke-width="1.5"/>
<line x1="475.7546403416952" y1="463.2758253743681" x2="450.9546403416952" y2="484.5758253743681" stroke="#000" stroke-width="1.5"/>
<line x1="467.6" y1="466.325" x2="455.2" y2="476.975" stroke="#777" stroke-width="1.6"/>
<line x1="392" y1="460.5" x2="468" y2="460.5" stroke="#000" stroke-width="1" stroke-dasharray="26 3 2 3"/>
<rect x="210.15" y="159.4" width="7.5" height="7.5" fill="#000"/>
<rect x="300.1" y="159.5" width="7.4" height="7.4" fill="#000"/>
<rect x="388.6" y="160.2" width="8" height="8" fill="#000"/>
<rect x="469.90000000000003" y="160.0" width="8.4" height="8.4" fill="#000"/>
<rect x="188.20000000000002" y="263.2" width="8.2" height="8.2" fill="#000"/>
<rect x="188.29999999999998" y="315.5" width="8.6" height="8.6" fill="#000"/>
<rect x="188.4" y="359.0" width="8.4" height="8.4" fill="#000"/>
<rect x="188.1" y="455.4" width="8.6" height="8.6" fill="#000"/>
<rect x="188.1" y="478.0" width="8.6" height="8.6" fill="#000"/>
<rect x="211.5" y="455.9" width="7.6" height="7.6" fill="#000"/>
<rect x="277.2" y="477.7" width="8.6" height="8.6" fill="#000"/>
<rect x="299.2" y="477.7" width="8.6" height="8.6" fill="#000"/>
<rect x="387.9" y="316.09999999999997" width="8.6" height="8.6" fill="#000"/>
<rect x="382.3" y="456.8" width="8.4" height="8.4" fill="#000" transform="rotate(40 386.5 461)"/>
<rect x="381.29999999999995" y="478.09999999999997" width="8.2" height="8.2" fill="#000"/>
<rect x="406.8" y="477.8" width="9" height="9" fill="#000"/>
<rect x="444.7" y="477.7" width="9" height="9" fill="#000" transform="rotate(40 449.2 482.2)"/>
<rect x="468.90000000000003" y="456.3" width="9.4" height="9.4" fill="#000" transform="rotate(40 473.6 461)"/>
<line x1="385.5" y1="346.7" x2="385.5" y2="456" stroke="#000" stroke-width="1"/>
<line x1="385.5" y1="465" x2="385.5" y2="478" stroke="#000" stroke-width="1"/>
<line x1="385.5" y1="486.5" x2="385.5" y2="499.3" stroke="#000" stroke-width="1"/>
<line x1="474.5" y1="467" x2="474.5" y2="472" stroke="#000" stroke-width="1"/>
<line x1="474.5" y1="476.5" x2="474.5" y2="505.4" stroke="#222" stroke-width="1"/>
<line x1="269" y1="169.5" x2="300.3" y2="169.5" stroke="#444" stroke-width="1"/>
<path d="M282.90 170.50 A17.4 17.4 0 0 0 300.30 187.90" stroke="#111" stroke-width="1" fill="none"/>
<circle cx="288.4" cy="171.3" r="1.1" stroke="#000" stroke-width="0.9" fill="none"/>
<line x1="283" y1="260.2" x2="303.7" y2="260.2" stroke="#000" stroke-width="2.1"/>
<path d="M282.10 260.00 A18.2 18.2 0 0 1 300.30 241.80" stroke="#111" stroke-width="1" fill="none"/>
<circle cx="289" cy="259" r="1.1" stroke="#000" stroke-width="0.9" fill="none"/>
<line x1="227.2" y1="311.3" x2="244.2" y2="311.3" stroke="#000" stroke-width="2.0"/>
<path d="M227.20 311.80 A17 17 0 0 1 244.20 294.80" stroke="#111" stroke-width="1" fill="none"/>
<rect x="229.3" y="310.4" width="3" height="2.2" fill="#fff" stroke="#000" stroke-width="0.9"/>
<line x1="297.4" y1="319.4" x2="297.4" y2="340" stroke="#000" stroke-width="2.0"/>
<path d="M277.20 320.00 A19.5 19.5 0 0 0 296.70 339.50" stroke="#111" stroke-width="1" fill="none"/>
<circle cx="295.2" cy="334.6" r="1.1" stroke="#000" stroke-width="0.9" fill="none"/>
<line x1="277" y1="319.5" x2="296" y2="319.5" stroke="#555" stroke-width="0.8" stroke-dasharray="9 2 1.5 2"/>
<line x1="400.2" y1="235.7" x2="400.2" y2="252.7" stroke="#000" stroke-width="1.8"/>
<path d="M400.40 235.70 A17 17 0 0 1 417.40 252.70" stroke="#111" stroke-width="1" fill="none"/>
<circle cx="399.8" cy="239" r="1.1" stroke="#000" stroke-width="0.9" fill="none"/>
<line x1="395.7" y1="252.5" x2="417.8" y2="252.5" stroke="#333" stroke-width="0.9" stroke-dasharray="4 2"/>
<line x1="424.1" y1="298.4" x2="439" y2="298.4" stroke="#000" stroke-width="1.6"/>
<path d="M424.10 281.60 A17 17 0 0 1 441.10 298.60" stroke="#111" stroke-width="1" fill="none"/>
<circle cx="436" cy="298" r="1.1" stroke="#000" stroke-width="0.9" fill="none"/>
<line x1="326.7" y1="442.6" x2="326.7" y2="460" stroke="#000" stroke-width="1.3"/>
<line x1="362.3" y1="442.6" x2="362.3" y2="460" stroke="#000" stroke-width="1.3"/>
<path d="M326.70 442.40 A17.8 17.8 0 0 1 344.50 460.20" stroke="#111" stroke-width="1" fill="none"/>
<path d="M362.30 442.40 A17.8 17.8 0 0 0 344.50 460.20" stroke="#111" stroke-width="1" fill="none"/>
<line x1="326.7" y1="460.5" x2="362.3" y2="460.5" stroke="#222" stroke-width="1"/>
<line x1="326.7" y1="463.5" x2="362.3" y2="463.5" stroke="#444" stroke-width="1"/>
<line x1="230.4" y1="167" x2="230.4" y2="263.5" stroke="#000" stroke-width="2.2"/>
<line x1="218.7" y1="176.5" x2="229.4" y2="176.5" stroke="#000" stroke-width="1"/>
<rect x="219.8" y="178.8" width="9" height="15.4" fill="#fff" stroke="#000" stroke-width="1.1"/>
<circle cx="224.2" cy="183.8" r="2" stroke="#000" stroke-width="1" fill="none"/>
<circle cx="224.2" cy="190.2" r="2" stroke="#000" stroke-width="1" fill="none"/>
<circle cx="224.2" cy="183.8" r="0.7" stroke="#000" stroke-width="0.6" fill="#000"/>
<circle cx="224.2" cy="190.2" r="0.7" stroke="#000" stroke-width="0.6" fill="#000"/>
<rect x="219.4" y="245.7" width="9.2" height="17" fill="#fff" stroke="#000" stroke-width="1.1"/>
<rect x="220.6" y="247" width="6.6" height="5.4" fill="#fff" stroke="#000" stroke-width="0.9"/>
<rect x="220.6" y="254" width="6.6" height="7.4" fill="#fff" stroke="#000" stroke-width="0.9"/>
<circle cx="224" cy="250" r="0.9" stroke="#000" stroke-width="0.8" fill="none"/>
<circle cx="224" cy="258" r="0.9" stroke="#000" stroke-width="0.8" fill="none"/>
<text transform="translate(242.3 214.4) scale(0.8 1)" font-family="&quot;Liberation Sans&quot;,&quot;Noto Sans CJK SC&quot;,sans-serif" font-size="9.9" font-weight="bold" font-style="italic" text-anchor="middle" fill="#000" stroke="#000" stroke-width="0.4">厨</text>
<text transform="translate(260.6 214.4) scale(0.8 1)" font-family="&quot;Liberation Sans&quot;,&quot;Noto Sans CJK SC&quot;,sans-serif" font-size="9.9" font-weight="bold" font-style="italic" text-anchor="middle" fill="#000" stroke="#000" stroke-width="0.4">房</text>
<line x1="274.5" y1="167.6" x2="274.5" y2="262" stroke="#000" stroke-width="1"/>
<line x1="273.0" y1="171.10000000000002" x2="276.6" y2="167.5" stroke="#000" stroke-width="1.2"/>
<line x1="273.0" y1="192.4" x2="276.6" y2="188.79999999999998" stroke="#000" stroke-width="1.2"/>
<line x1="273.0" y1="208.8" x2="276.6" y2="205.2" stroke="#000" stroke-width="1.2"/>
<line x1="273.0" y1="241.20000000000002" x2="276.6" y2="237.6" stroke="#000" stroke-width="1.2"/>
<line x1="273.0" y1="262.8" x2="276.6" y2="259.2" stroke="#000" stroke-width="1.2"/>
<line x1="274.8" y1="192.5" x2="293" y2="192.5" stroke="#000" stroke-width="1"/>
<line x1="274.8" y1="208.5" x2="293" y2="208.5" stroke="#000" stroke-width="1"/>
<line x1="274.8" y1="239.5" x2="296" y2="239.5" stroke="#000" stroke-width="1"/>
<rect x="200.8" y="270.9" width="12.6" height="4.4" fill="#fff" stroke="#000" stroke-width="1.1"/>
<path d="M202.6 275.6 C201.8 281 203.6 287.6 207.2 288.4 C210.8 287.6 212.4 281 211.6 275.6 Z" stroke="#000" stroke-width="1.1" fill="none"/>
<rect x="197" y="301.8" width="19.5" height="14" fill="#fff" stroke="#000" stroke-width="1.1"/>
<ellipse cx="206.4" cy="309.2" rx="6.9" ry="4.9" stroke="#000" stroke-width="1.1" fill="none"/>
<ellipse cx="206.4" cy="309.2" rx="5.4" ry="3.6" stroke="#555" stroke-width="0.7" fill="none"/>
<circle cx="206.6" cy="310" r="0.7" stroke="#000" stroke-width="0.6" fill="#000"/>
<line x1="227.5" y1="270.4" x2="227.5" y2="281.4" stroke="#000" stroke-width="1.2"/>
<circle cx="227.4" cy="282" r="0.9" stroke="#444" stroke-width="0.9" fill="none"/>
<line x1="241" y1="291" x2="273.5" y2="291" stroke="#000" stroke-width="3.4"/>
<line x1="242.2" y1="289.4" x2="242.2" y2="294.6" stroke="#000" stroke-width="2.4"/>
<line x1="244.8" y1="293" x2="244.8" y2="316" stroke="#000" stroke-width="1.4"/>
<line x1="247.5" y1="293" x2="247.5" y2="316" stroke="#333" stroke-width="1"/>
<line x1="244.5" y1="267.6" x2="244.5" y2="289" stroke="#000" stroke-width="1"/>
<line x1="255.5" y1="293" x2="255.5" y2="315.5" stroke="#333" stroke-width="1"/>
<line x1="262.5" y1="293" x2="262.5" y2="315.5" stroke="#333" stroke-width="1"/>
<line x1="269.5" y1="293" x2="269.5" y2="315.5" stroke="#333" stroke-width="1"/>
<line x1="249" y1="309.5" x2="258" y2="309.5" stroke="#000" stroke-width="1"/>
<line x1="249" y1="311.5" x2="258" y2="311.5" stroke="#000" stroke-width="1"/>
<line x1="253.5" y1="298" x2="253.5" y2="309" stroke="#000" stroke-width="1"/>
<text transform="translate(253.4 300) rotate(-90)" font-family="&quot;Liberation Sans&quot;,&quot;Noto Sans CJK SC&quot;,sans-serif" font-size="5.5" font-weight="bold" font-style="normal" text-anchor="middle" fill="#000">下</text>
<line x1="237.6" y1="280.5" x2="262.8" y2="280.5" stroke="#000" stroke-width="1"/>
<text transform="translate(247.68 278.4)" font-family="&quot;Liberation Serif&quot;,&quot;Noto Serif CJK SC&quot;,serif" font-size="5.8" font-weight="bold" font-style="normal" text-anchor="middle" fill="#000" stroke="#000" stroke-width="0.5">-0.400</text>
<path d="M254.20000000000002 281.5 L262.8 281.5 L258.5 285.5 Z" stroke="#000" stroke-width="0.9" fill="none"/>
<line x1="254.20000000000002" y1="285.5" x2="263.3" y2="285.5" stroke="#000" stroke-width="0.9"/>
<line x1="267.5" y1="270.3" x2="267.5" y2="292.2" stroke="#222" stroke-width="1"/>
<line x1="274.5" y1="270.3" x2="274.5" y2="292.2" stroke="#222" stroke-width="1"/>
<line x1="281.5" y1="270.3" x2="281.5" y2="292.2" stroke="#222" stroke-width="1"/>
<line x1="287.5" y1="270.3" x2="287.5" y2="292.2" stroke="#222" stroke-width="1"/>
<line x1="294.5" y1="270.3" x2="294.5" y2="292.2" stroke="#222" stroke-width="1"/>
<line x1="300.5" y1="270.3" x2="300.5" y2="292.2" stroke="#222" stroke-width="1"/>
<line x1="273.5" y1="292.4" x2="301.6" y2="292.4" stroke="#000" stroke-width="1.4"/>
<path d="M259.6 271.4 L267.6 281.4 L264.6 282.6 L273.5 290" stroke="#111" stroke-width="1" fill="none"/>
<line x1="270.3" y1="282.5" x2="278" y2="282.5" stroke="#000" stroke-width="1"/>
<path d="M275.4 281.2 L278 282.6 L275.4 284 Z" stroke="#000" stroke-width="1" fill="#000"/>
<line x1="303.5" y1="274.7" x2="303.5" y2="311.8" stroke="#000" stroke-width="1"/>
<line x1="301.9" y1="308.0" x2="305.1" y2="304.79999999999995" stroke="#000" stroke-width="1.1"/>
<line x1="298.79999999999995" y1="308.0" x2="302.0" y2="304.79999999999995" stroke="#000" stroke-width="1.1"/>
<line x1="296" y1="306.5" x2="308" y2="306.5" stroke="#000" stroke-width="1"/>
<text transform="translate(302 303.6) scale(0.77 1)" font-family="&quot;Liberation Serif&quot;,&quot;Noto Serif CJK SC&quot;,serif" font-size="10" font-weight="bold" font-style="normal" text-anchor="middle" fill="#000" stroke="#000" stroke-width="0.3">100</text>
<line x1="309.5" y1="267.5" x2="336" y2="267.5" stroke="#000" stroke-width="1"/>
<line x1="309.5" y1="292.5" x2="336.6" y2="292.5" stroke="#000" stroke-width="1"/>
<line x1="330.5" y1="264.6" x2="330.5" y2="295.8" stroke="#000" stroke-width="1"/>
<line x1="328.8" y1="269.3" x2="332.40000000000003" y2="265.7" stroke="#000" stroke-width="1.3"/>
<line x1="328.8" y1="294.6" x2="332.40000000000003" y2="291.0" stroke="#000" stroke-width="1.3"/>
<text transform="translate(327.3 280) rotate(-90) scale(0.77 1)" font-family="&quot;Liberation Serif&quot;,&quot;Noto Serif CJK SC&quot;,serif" font-size="10" font-weight="bold" font-style="normal" text-anchor="middle" fill="#000" stroke="#000" stroke-width="0.3">1020</text>
<text transform="translate(316 282.3) rotate(-90)" font-family="&quot;Liberation Sans&quot;,&quot;Noto Sans CJK SC&quot;,sans-serif" font-size="7.5" font-weight="normal" font-style="normal" text-anchor="middle" fill="#000">上</text>
<text transform="translate(259.6 157.4) scale(0.95 1)" font-family="&quot;Liberation Sans&quot;,&quot;Noto Sans CJK SC&quot;,sans-serif" font-size="10.8" font-weight="normal" font-style="normal" text-anchor="middle" fill="#151515" letter-spacing="0.7">C-3</text>
<text transform="translate(433.8 157.6) scale(0.95 1)" font-family="&quot;Liberation Sans&quot;,&quot;Noto Sans CJK SC&quot;,sans-serif" font-size="10.8" font-weight="normal" font-style="normal" text-anchor="middle" fill="#151515" letter-spacing="0.7">C-7</text>
<text transform="translate(348 204) scale(0.95 1)" font-family="&quot;Liberation Sans&quot;,&quot;Noto Sans CJK SC&quot;,sans-serif" font-size="10.8" font-weight="normal" font-style="normal" text-anchor="middle" fill="#151515" letter-spacing="0.7">C-4</text>
<text transform="translate(317 180.6) rotate(-90) scale(0.9 1)" font-family="&quot;Liberation Sans&quot;,&quot;Noto Sans CJK SC&quot;,sans-serif" font-size="10.8" font-weight="normal" font-style="normal" text-anchor="middle" fill="#151515" letter-spacing="0.7">M-2A</text>
<text transform="translate(318.4 250.2) rotate(-90) scale(0.95 1)" font-family="&quot;Liberation Sans&quot;,&quot;Noto Sans CJK SC&quot;,sans-serif" font-size="10.8" font-weight="normal" font-style="normal" text-anchor="middle" fill="#151515" letter-spacing="0.7">M-2</text>
<text transform="translate(286.6 315.6) scale(0.95 1)" font-family="&quot;Liberation Sans&quot;,&quot;Noto Sans CJK SC&quot;,sans-serif" font-size="10.8" font-weight="normal" font-style="normal" text-anchor="middle" fill="#151515" letter-spacing="0.7">M-2</text>
<text transform="translate(408.6 231.8) scale(0.95 1)" font-family="&quot;Liberation Sans&quot;,&quot;Noto Sans CJK SC&quot;,sans-serif" font-size="10.8" font-weight="normal" font-style="normal" text-anchor="middle" fill="#151515" letter-spacing="0.7">M-2</text>
<text transform="translate(416.4 290) rotate(-90) scale(0.95 1)" font-family="&quot;Liberation Sans&quot;,&quot;Noto Sans CJK SC&quot;,sans-serif" font-size="10.8" font-weight="normal" font-style="normal" text-anchor="middle" fill="#151515" letter-spacing="0.7">M-3</text>
<text transform="translate(208.4 345.3) rotate(-90) scale(0.95 1)" font-family="&quot;Liberation Sans&quot;,&quot;Noto Sans CJK SC&quot;,sans-serif" font-size="10.8" font-weight="normal" font-style="normal" text-anchor="middle" fill="#151515" letter-spacing="0.7">C-5</text>
<text transform="translate(488.5 293.5) rotate(-90) scale(0.95 1)" font-family="&quot;Liberation Sans&quot;,&quot;Noto Sans CJK SC&quot;,sans-serif" font-size="10.8" font-weight="normal" font-style="normal" text-anchor="middle" fill="#151515" letter-spacing="0.7">C-6</text>
<text transform="translate(186.3 290.6) rotate(-90) scale(0.95 1)" font-family="&quot;Liberation Sans&quot;,&quot;Noto Sans CJK SC&quot;,sans-serif" font-size="10.8" font-weight="normal" font-style="normal" text-anchor="middle" fill="#151515" letter-spacing="0.7">C-1</text>
<text transform="translate(259.6 474.6) scale(0.95 1)" font-family="&quot;Liberation Sans&quot;,&quot;Noto Sans CJK SC&quot;,sans-serif" font-size="10.8" font-weight="normal" font-style="normal" text-anchor="middle" fill="#151515" letter-spacing="0.7">C-3</text>
<text transform="translate(344.4 440.6) scale(0.95 1)" font-family="&quot;Liberation Sans&quot;,&quot;Noto Sans CJK SC&quot;,sans-serif" font-size="10.8" font-weight="normal" font-style="normal" text-anchor="middle" fill="#151515" letter-spacing="0.7">M-1</text>
<text transform="translate(429.8 474.8) scale(0.75 1)" font-family="&quot;Liberation Serif&quot;,&quot;Noto Serif CJK SC&quot;,serif" font-size="10.8" font-weight="bold" font-style="normal" text-anchor="middle" fill="#000" stroke="#000" stroke-width="0.3">C-1</text>
<text transform="translate(405.3 467.2) rotate(45) scale(0.78 1)" font-family="&quot;Liberation Serif&quot;,&quot;Noto Serif CJK SC&quot;,serif" font-size="10.5" font-weight="bold" font-style="normal" text-anchor="middle" fill="#000" stroke="#000" stroke-width="0.3">C-2</text>
<text transform="translate(458.3 467.6) rotate(-45) scale(0.78 1)" font-family="&quot;Liberation Serif&quot;,&quot;Noto Serif CJK SC&quot;,serif" font-size="10.5" font-weight="bold" font-style="normal" text-anchor="middle" fill="#000" stroke="#000" stroke-width="0.3">C-2</text>
<text transform="translate(339 240.6) scale(0.8 1)" font-family="&quot;Liberation Sans&quot;,&quot;Noto Sans CJK SC&quot;,sans-serif" font-size="9.9" font-weight="bold" font-style="italic" text-anchor="middle" fill="#000" stroke="#000" stroke-width="0.4">餐</text>
<text transform="translate(356.8 240.6) scale(0.8 1)" font-family="&quot;Liberation Sans&quot;,&quot;Noto Sans CJK SC&quot;,sans-serif" font-size="9.9" font-weight="bold" font-style="italic" text-anchor="middle" fill="#000" stroke="#000" stroke-width="0.4">厅</text>
<text transform="translate(420.4 215.0) scale(0.8 1)" font-family="&quot;Liberation Sans&quot;,&quot;Noto Sans CJK SC&quot;,sans-serif" font-size="9.9" font-weight="bold" font-style="italic" text-anchor="middle" fill="#000" stroke="#000" stroke-width="0.4">储</text>
<text transform="translate(439.3 215.0) scale(0.8 1)" font-family="&quot;Liberation Sans&quot;,&quot;Noto Sans CJK SC&quot;,sans-serif" font-size="9.9" font-weight="bold" font-style="italic" text-anchor="middle" fill="#000" stroke="#000" stroke-width="0.4">藏</text>
<text transform="translate(458.2 215.0) scale(0.8 1)" font-family="&quot;Liberation Sans&quot;,&quot;Noto Sans CJK SC&quot;,sans-serif" font-size="9.9" font-weight="bold" font-style="italic" text-anchor="middle" fill="#000" stroke="#000" stroke-width="0.4">间</text>
<text transform="translate(247.6 394.0) scale(0.8 1)" font-family="&quot;Liberation Sans&quot;,&quot;Noto Sans CJK SC&quot;,sans-serif" font-size="9.9" font-weight="bold" font-style="italic" text-anchor="middle" fill="#000" stroke="#000" stroke-width="0.4">老</text>
<text transform="translate(266 394.0) scale(0.8 1)" font-family="&quot;Liberation Sans&quot;,&quot;Noto Sans CJK SC&quot;,sans-serif" font-size="9.9" font-weight="bold" font-style="italic" text-anchor="middle" fill="#000" stroke="#000" stroke-width="0.4">人</text>
<text transform="translate(284.8 394.0) scale(0.8 1)" font-family="&quot;Liberation Sans&quot;,&quot;Noto Sans CJK SC&quot;,sans-serif" font-size="9.9" font-weight="bold" font-style="italic" text-anchor="middle" fill="#000" stroke="#000" stroke-width="0.4">卧</text>
<text transform="translate(303.6 394.0) scale(0.8 1)" font-family="&quot;Liberation Sans&quot;,&quot;Noto Sans CJK SC&quot;,sans-serif" font-size="9.9" font-weight="bold" font-style="italic" text-anchor="middle" fill="#000" stroke="#000" stroke-width="0.4">房</text>
<text transform="translate(376 393.79999999999995) scale(0.8 1)" font-family="&quot;Liberation Sans&quot;,&quot;Noto Sans CJK SC&quot;,sans-serif" font-size="9.9" font-weight="bold" font-style="italic" text-anchor="middle" fill="#000" stroke="#000" stroke-width="0.4">大</text>
<text transform="translate(403.2 392.59999999999997) scale(0.8 1)" font-family="&quot;Liberation Sans&quot;,&quot;Noto Sans CJK SC&quot;,sans-serif" font-size="9.9" font-weight="bold" font-style="italic" text-anchor="middle" fill="#000" stroke="#000" stroke-width="0.4">厅</text>
<line x1="332.7" y1="183.5" x2="357.9" y2="183.5" stroke="#000" stroke-width="1"/>
<text transform="translate(342.78 181.2)" font-family="&quot;Liberation Serif&quot;,&quot;Noto Serif CJK SC&quot;,serif" font-size="5.8" font-weight="bold" font-style="normal" text-anchor="middle" fill="#000" stroke="#000" stroke-width="0.5">-0.020</text>
<path d="M349.29999999999995 184.5 L357.9 184.5 L353.59999999999997 188.3 Z" stroke="#000" stroke-width="0.9" fill="none"/>
<line x1="349.29999999999995" y1="188.5" x2="358.4" y2="188.5" stroke="#000" stroke-width="0.9"/>
<line x1="417.2" y1="193.5" x2="443" y2="193.5" stroke="#000" stroke-width="1"/>
<text transform="translate(427.52 191.5)" font-family="&quot;Liberation Serif&quot;,&quot;Noto Serif CJK SC&quot;,serif" font-size="5.8" font-weight="bold" font-style="normal" text-anchor="middle" fill="#000" stroke="#000" stroke-width="0.5">1.500</text>
<path d="M434.4 194.5 L443 194.5 L438.7 198.60000000000002 Z" stroke="#000" stroke-width="0.9" fill="none"/>
<line x1="434.4" y1="198.5" x2="443.5" y2="198.5" stroke="#000" stroke-width="0.9"/>
<line x1="432.6" y1="282.5" x2="456.5" y2="282.5" stroke="#000" stroke-width="1"/>
<text transform="translate(442.16 281.0)" font-family="&quot;Liberation Serif&quot;,&quot;Noto Serif CJK SC&quot;,serif" font-size="5.8" font-weight="bold" font-style="normal" text-anchor="middle" fill="#000" stroke="#000" stroke-width="0.5">1.480</text>
<path d="M447.9 283.5 L456.5 283.5 L452.2 288.1 Z" stroke="#000" stroke-width="0.9" fill="none"/>
<line x1="447.9" y1="288.5" x2="457.0" y2="288.5" stroke="#000" stroke-width="0.9"/>
<line x1="354.8" y1="295.5" x2="376.7" y2="295.5" stroke="#000" stroke-width="1"/>
<text transform="translate(363.56 294.09999999999997)" font-family="&quot;Liberation Serif&quot;,&quot;Noto Serif CJK SC&quot;,serif" font-size="5.8" font-weight="bold" font-style="normal" text-anchor="middle" fill="#000" stroke="#000" stroke-width="0.5">±0.000</text>
<path d="M368.09999999999997 296.5 L376.7 296.5 L372.4 301.2 Z" stroke="#000" stroke-width="0.9" fill="none"/>
<line x1="368.09999999999997" y1="301.5" x2="377.2" y2="301.5" stroke="#000" stroke-width="0.9"/>
<line x1="408.2" y1="391.5" x2="432.1" y2="391.5" stroke="#000" stroke-width="1"/>
<text transform="translate(417.76 389.3)" font-family="&quot;Liberation Serif&quot;,&quot;Noto Serif CJK SC&quot;,serif" font-size="5.8" font-weight="bold" font-style="normal" text-anchor="middle" fill="#000" stroke="#000" stroke-width="0.5">±0.000</text>
<path d="M423.5 392.5 L432.1 392.5 L427.8 396.40000000000003 Z" stroke="#000" stroke-width="0.9" fill="none"/>
<line x1="423.5" y1="396.5" x2="432.6" y2="396.5" stroke="#000" stroke-width="0.9"/>
<line x1="244.4" y1="416.5" x2="267" y2="416.5" stroke="#000" stroke-width="1"/>
<text transform="translate(253.44 414.59999999999997)" font-family="&quot;Liberation Serif&quot;,&quot;Noto Serif CJK SC&quot;,serif" font-size="5.8" font-weight="bold" font-style="normal" text-anchor="middle" fill="#000" stroke="#000" stroke-width="0.5">±0.000</text>
<path d="M258.4 417.5 L267 417.5 L262.7 421.7 Z" stroke="#000" stroke-width="0.9" fill="none"/>
<line x1="258.4" y1="422.5" x2="267.5" y2="422.5" stroke="#000" stroke-width="0.9"/>
<line x1="333.4" y1="488.5" x2="355.4" y2="488.5" stroke="#000" stroke-width="1"/>
<text transform="translate(342.2 486.4)" font-family="&quot;Liberation Serif&quot;,&quot;Noto Serif CJK SC&quot;,serif" font-size="5.8" font-weight="bold" font-style="normal" text-anchor="middle" fill="#000" stroke="#000" stroke-width="0.5">-0.020</text>
<path d="M346.79999999999995 489.5 L355.4 489.5 L351.09999999999997 493.5 Z" stroke="#000" stroke-width="0.9" fill="none"/>
<line x1="346.79999999999995" y1="493.5" x2="355.9" y2="493.5" stroke="#000" stroke-width="0.9"/>
<rect x="424.6" y="255.6" width="39.6" height="17.6" fill="#fff" stroke="#000" stroke-width="1.2"/>
<path d="M432 257.6 H458.5 Q461.4 257.6 461.4 260.5 V268.3 Q461.4 271.2 458.5 271.2 H432 Q427 271.2 427 264.4 Q427 257.6 432 257.6 Z" stroke="#000" stroke-width="1.8" fill="none"/>
<path d="M450 259 H456 Q459.5 259 459.5 262 V267 Q459.5 270 456 270 H450" stroke="#000" stroke-width="1.1" fill="none"/>
<path d="M455.2 262.6 L457 266 L453.4 266 Z" stroke="#000" stroke-width="0.8" fill="#000"/>
<line x1="449" y1="256.6" x2="455" y2="256.6" stroke="#fff" stroke-width="1.2"/>
<rect x="424.6" y="301.2" width="23.2" height="14.6" fill="#fff" stroke="#000" stroke-width="1.1"/>
<ellipse cx="435.2" cy="309.3" rx="7" ry="4.8" stroke="#000" stroke-width="1.1" fill="none"/>
<ellipse cx="435.2" cy="309.3" rx="5.4" ry="3.5" stroke="#555" stroke-width="0.7" fill="none"/>
<circle cx="435.4" cy="310" r="0.7" stroke="#000" stroke-width="0.6" fill="#000"/>
<rect x="452.8" y="311.2" width="12.4" height="3.4" fill="#fff" stroke="#000" stroke-width="1.1"/>
<path d="M454.2 311 C453 306 455.4 299.4 459 298 C462.6 299.4 465 306 463.8 311 Z" stroke="#000" stroke-width="1.1" fill="none"/>
<line x1="452.7" y1="297.3" x2="462.2" y2="284.7" stroke="#000" stroke-width="1"/>
<path d="M459.6 288.6 L465 291.4" stroke="#000" stroke-width="1" fill="none"/>
<circle cx="463.6" cy="291.6" r="1.2" stroke="#000" stroke-width="0.9" fill="none"/>
<ellipse cx="468.4" cy="277.6" rx="1.6" ry="1.1" stroke="#000" stroke-width="1" fill="none"/>
<rect x="370.8" y="314.6" width="14.6" height="9.4" fill="#fff" stroke="#222" stroke-width="1"/>
<line x1="382.4" y1="312" x2="382.4" y2="321.8" stroke="#000" stroke-width="1.6"/>
<path d="M370.59999999999997 323.9 A21.6 21.6 0 0 0 413.8 323.9" stroke="#111" stroke-width="1" fill="none"/>
<path d="M373.4 323.9 A18.8 18.8 0 0 0 411.0 323.9" stroke="#111" stroke-width="1" fill="none"/>
<path d="M413.8 323.9 Q414.2 319.4 418.2 319.0" stroke="#000" stroke-width="1" fill="none"/>
<line x1="397.3683094143225" y1="325.28111078829113" x2="412.30942208481844" y2="331.2192310671693" stroke="#222" stroke-width="1"/>
<line x1="396.089087296526" y1="327.28908729652596" x2="407.3320851173921" y2="339.0320851173921" stroke="#222" stroke-width="1"/>
<line x1="394.2603362637875" y1="328.4995112001173" x2="400.2165810991005" y2="343.7417344877292" stroke="#222" stroke-width="1"/>
<line x1="392.5" y1="328.9" x2="392.5" y2="345.29999999999995" stroke="#222" stroke-width="1"/>
<line x1="390.13966373621247" y1="328.4995112001173" x2="384.1834189008995" y2="343.7417344877292" stroke="#222" stroke-width="1"/>
<line x1="388.310912703474" y1="327.28908729652596" x2="377.06791488260785" y2="339.0320851173921" stroke="#222" stroke-width="1"/>
<line x1="387.0316905856775" y1="325.28111078829113" x2="372.09057791518154" y2="331.2192310671693" stroke="#222" stroke-width="1"/>
<line x1="403.5" y1="302.6" x2="403.5" y2="325.3" stroke="#000" stroke-width="1"/>
<rect x="387.9" y="316.09999999999997" width="8.6" height="8.6" fill="#000"/>
<path d="M400.4 339.1 L411.7 355.5 L450 355.5" stroke="#000" stroke-width="1" fill="none"/>
<text transform="translate(410.7 353.2) scale(0.88 1)" font-family="&quot;Liberation Sans&quot;,&quot;Noto Sans CJK SC&quot;,sans-serif" font-size="8.6" font-weight="bold" font-style="italic" text-anchor="start" fill="#000" stroke="#000" stroke-width="0.3">详见建施</text>
<text transform="translate(441.3 353.4) scale(0.78 1)" font-family="&quot;Liberation Sans&quot;,&quot;Noto Sans CJK SC&quot;,sans-serif" font-size="10" font-weight="normal" font-style="normal" text-anchor="start" fill="#222">06</text>
<path d="M326.5 322.1 L332.8 354.5 L352 354.5" stroke="#000" stroke-width="1" fill="none"/>
<text transform="translate(340.6 353.59999999999997) scale(0.8 1)" font-family="&quot;Liberation Sans&quot;,&quot;Noto Sans CJK SC&quot;,sans-serif" font-size="9.02" font-weight="bold" font-style="italic" text-anchor="middle" fill="#000" stroke="#000" stroke-width="0.4">建施</text>
<circle cx="364" cy="355.3" r="12" stroke="#111" stroke-width="1" fill="#fff"/>
<line x1="352" y1="355.5" x2="376" y2="355.5" stroke="#000" stroke-width="1"/>
<text transform="translate(364 354.0) scale(1.55 1)" font-family="&quot;DejaVu Sans&quot;,&quot;Liberation Sans&quot;,sans-serif" font-size="11.3" font-weight="200" font-style="normal" text-anchor="middle" fill="#000" stroke="#111" stroke-width="0.4">4</text>
<text transform="translate(364 365.5) scale(0.7 1)" font-family="&quot;Liberation Serif&quot;,&quot;Noto Serif CJK SC&quot;,serif" font-size="13" font-weight="bold" font-style="normal" text-anchor="middle" fill="#000">06</text>
<rect x="338.2" y="315.6" width="4.4" height="7" fill="#fff" stroke="#000" stroke-width="1.2"/>
<path d="M344.5 313.4 L344.5 326.6" stroke="#000" stroke-width="1" fill="none"/>
<path d="M348.5 313 L348.5 327" stroke="#000" stroke-width="1.1" fill="none"/>
<path d="M346.5 316 L348 313 L349.5 316 Z" stroke="#000" stroke-width="0.9" fill="#000"/>
<path d="M346.5 324.4 L348 327.4 L349.5 324.4 Z" stroke="#000" stroke-width="0.9" fill="#000"/>
<line x1="218.5" y1="361.5" x2="244.4" y2="361.5" stroke="#000" stroke-width="1"/>
<line x1="242.6" y1="363.2" x2="246.20000000000002" y2="359.59999999999997" stroke="#000" stroke-width="1.2"/>
<line x1="244.4" y1="354.5" x2="305.5" y2="354.5" stroke="#000" stroke-width="1"/>
<line x1="245.2" y1="356.1" x2="248.8" y2="352.5" stroke="#000" stroke-width="1.2"/>
<line x1="252.1" y1="356.1" x2="255.70000000000002" y2="352.5" stroke="#000" stroke-width="1.2"/>
<line x1="267.2" y1="356.1" x2="270.8" y2="352.5" stroke="#000" stroke-width="1.2"/>
<line x1="273.5" y1="356.1" x2="277.1" y2="352.5" stroke="#000" stroke-width="1.2"/>
<line x1="295.5" y1="356.1" x2="299.1" y2="352.5" stroke="#000" stroke-width="1.2"/>
<line x1="302.5" y1="356.1" x2="306.1" y2="352.5" stroke="#000" stroke-width="1.2"/>
<line x1="244.5" y1="326.4" x2="244.5" y2="368" stroke="#000" stroke-width="1"/>
<line x1="247.5" y1="341" x2="247.5" y2="360.4" stroke="#000" stroke-width="1"/>
<line x1="254.5" y1="341" x2="254.5" y2="361" stroke="#000" stroke-width="1"/>
<line x1="269.5" y1="355" x2="269.5" y2="361" stroke="#000" stroke-width="1"/>
<line x1="275.5" y1="330" x2="275.5" y2="361" stroke="#000" stroke-width="1"/>
<line x1="297.5" y1="340" x2="297.5" y2="360.4" stroke="#000" stroke-width="1"/>
<text transform="translate(229.5 358) scale(0.77 1)" font-family="&quot;Liberation Serif&quot;,&quot;Noto Serif CJK SC&quot;,serif" font-size="10.5" font-weight="bold" font-style="normal" text-anchor="middle" fill="#000" stroke="#000" stroke-width="0.3">1200</text>
<text transform="translate(286.6 351) scale(0.77 1)" font-family="&quot;Liberation Serif&quot;,&quot;Noto Serif CJK SC&quot;,serif" font-size="10.5" font-weight="bold" font-style="normal" text-anchor="middle" fill="#000" stroke="#000" stroke-width="0.3">900</text>
<path d="M294.5 485.4 L294.5 508.5 L394.5 508.5 L394.5 486" stroke="#222" stroke-width="1" fill="none"/>
<path d="M303.5 486 L303.5 499.5 L386 499.5" stroke="#222" stroke-width="1" fill="none"/>
<line x1="341.2" y1="499.5" x2="341.2" y2="537.5" stroke="#000" stroke-width="2"/>
<line x1="340.2" y1="537.4" x2="365.4" y2="537.4" stroke="#000" stroke-width="2"/>
<line x1="363.5" y1="497" x2="363.5" y2="549.5" stroke="#000" stroke-width="1.2"/>
<line x1="365.5" y1="527" x2="365.5" y2="549.5" stroke="#000" stroke-width="1.1"/>
<path d="M366.5 497 L366.5 527.5 L417 527.5" stroke="#000" stroke-width="1" fill="none"/>
<text transform="translate(405.6 526.0) scale(0.8 1)" font-family="&quot;Liberation Sans&quot;,&quot;Noto Sans CJK SC&quot;,sans-serif" font-size="9.02" font-weight="bold" font-style="italic" text-anchor="middle" fill="#000" stroke="#000" stroke-width="0.4">建施</text>
<circle cx="429.2" cy="526.8" r="12" stroke="#111" stroke-width="1" fill="#fff"/>
<line x1="417.2" y1="526.5" x2="441.2" y2="526.5" stroke="#000" stroke-width="1"/>
<text transform="translate(429.2 525.5) scale(1.55 1)" font-family="&quot;DejaVu Sans&quot;,&quot;Liberation Sans&quot;,sans-serif" font-size="11.3" font-weight="200" font-style="normal" text-anchor="middle" fill="#000" stroke="#111" stroke-width="0.4">3</text>
<text transform="translate(429.2 537.0) scale(0.7 1)" font-family="&quot;Liberation Serif&quot;,&quot;Noto Serif CJK SC&quot;,serif" font-size="13" font-weight="bold" font-style="normal" text-anchor="middle" fill="#000">06</text>
<text transform="translate(378.3 544.8) scale(1.15 1)" font-family="&quot;Liberation Serif&quot;,&quot;Noto Serif CJK SC&quot;,serif" font-size="19" font-weight="normal" font-style="normal" text-anchor="middle" fill="#000">I</text>
<line x1="408.5" y1="514.6" x2="408.5" y2="542.3" stroke="#000" stroke-width="1.1"/>
<line x1="414.5" y1="514.6" x2="414.5" y2="542.3" stroke="#000" stroke-width="1.1"/>
<line x1="443.5" y1="514.6" x2="443.5" y2="542.3" stroke="#000" stroke-width="1.1"/>
<line x1="449.5" y1="514.6" x2="449.5" y2="542.3" stroke="#000" stroke-width="1.1"/>
<line x1="325.5" y1="514.6" x2="325.5" y2="536" stroke="#000" stroke-width="1.1"/>
<text transform="translate(49.4 524.8)" font-family="&quot;Liberation Sans&quot;,&quot;Noto Sans CJK SC&quot;,sans-serif" font-size="10.8" font-weight="bold" font-style="normal" text-anchor="start" fill="#000" textLength="214" lengthAdjust="spacingAndGlyphs">除门厅两个柱子外，其余柱子及净瓶式栏杆由用户装修时施工</text>
<line x1="47.5" y1="528.5" x2="267.5" y2="528.5" stroke="#000" stroke-width="1"/>
<line x1="267.5" y1="483" x2="267.5" y2="528.8" stroke="#000" stroke-width="1"/>
<line x1="478.9" y1="512.3" x2="502.8" y2="490.3" stroke="#000" stroke-width="1"/>
<line x1="495.9" y1="530.6" x2="519.8" y2="508.6" stroke="#000" stroke-width="1"/>
<line x1="452" y1="485.4" x2="498" y2="531.4" stroke="#000" stroke-width="1"/>
<line x1="460" y1="487.2" x2="485" y2="512.2" stroke="#000" stroke-width="1"/>
<line x1="478.5" y1="474.4" x2="500.5" y2="496.4" stroke="#000" stroke-width="1"/>
<line x1="478" y1="465.5" x2="524.5" y2="512" stroke="#000" stroke-width="1"/>
<line x1="476.29999999999995" y1="512.3" x2="481.5" y2="512.3" stroke="#000" stroke-width="1.0"/>
<line x1="478.9" y1="509.69999999999993" x2="478.9" y2="514.9" stroke="#000" stroke-width="1.0"/>
<circle cx="478.9" cy="512.3" r="1.5" stroke="#000" stroke-width="0.5" fill="#000"/>
<line x1="479.4" y1="509.4" x2="484.6" y2="509.4" stroke="#000" stroke-width="1.0"/>
<line x1="482" y1="506.79999999999995" x2="482" y2="512.0" stroke="#000" stroke-width="1.0"/>
<line x1="495.79999999999995" y1="494.3" x2="501.0" y2="494.3" stroke="#000" stroke-width="1.0"/>
<line x1="498.4" y1="491.7" x2="498.4" y2="496.90000000000003" stroke="#000" stroke-width="1.0"/>
<line x1="500.2" y1="490.3" x2="505.40000000000003" y2="490.3" stroke="#000" stroke-width="1.0"/>
<line x1="502.8" y1="487.7" x2="502.8" y2="492.90000000000003" stroke="#000" stroke-width="1.0"/>
<circle cx="502.8" cy="490.3" r="1.5" stroke="#000" stroke-width="0.5" fill="#000"/>
<line x1="493.29999999999995" y1="530.6" x2="498.5" y2="530.6" stroke="#000" stroke-width="1.0"/>
<line x1="495.9" y1="528.0" x2="495.9" y2="533.2" stroke="#000" stroke-width="1.0"/>
<circle cx="495.9" cy="530.6" r="1.5" stroke="#000" stroke-width="0.5" fill="#000"/>
<line x1="517.1999999999999" y1="508.6" x2="522.4" y2="508.6" stroke="#000" stroke-width="1.0"/>
<line x1="519.8" y1="506.0" x2="519.8" y2="511.20000000000005" stroke="#000" stroke-width="1.0"/>
<text transform="translate(505.6 479) rotate(-45) scale(0.77 1)" font-family="&quot;Liberation Serif&quot;,&quot;Noto Serif CJK SC&quot;,serif" font-size="10.5" font-weight="bold" font-style="normal" text-anchor="middle" fill="#000" stroke="#000" stroke-width="0.3">283</text>
<text transform="translate(504.3 516) rotate(-45) scale(0.77 1)" font-family="&quot;Liberation Serif&quot;,&quot;Noto Serif CJK SC&quot;,serif" font-size="10.5" font-weight="bold" font-style="normal" text-anchor="middle" fill="#000" stroke="#000" stroke-width="0.3">1273</text>
<text transform="translate(469.6 516) rotate(-45) scale(0.77 1)" font-family="&quot;Liberation Serif&quot;,&quot;Noto Serif CJK SC&quot;,serif" font-size="10.5" font-weight="bold" font-style="normal" text-anchor="middle" fill="#000" stroke="#000" stroke-width="0.3">240</text>
<line x1="297.5" y1="523.5" x2="319.6" y2="523.5" stroke="#000" stroke-width="1"/>
<text transform="translate(306.34000000000003 521.8000000000001)" font-family="&quot;Liberation Serif&quot;,&quot;Noto Serif CJK SC&quot;,serif" font-size="5.8" font-weight="bold" font-style="normal" text-anchor="middle" fill="#000" stroke="#000" stroke-width="0.5">-0.320</text>
<path d="M311.0 524.5 L319.6 524.5 L315.3 528.9 Z" stroke="#000" stroke-width="0.9" fill="none"/>
<line x1="311.0" y1="529.5" x2="320.1" y2="529.5" stroke="#000" stroke-width="0.9"/>
<line x1="281.5" y1="513.4" x2="281.5" y2="529.8" stroke="#000" stroke-width="1.1"/>
<line x1="396.6" y1="316.5" x2="420.3" y2="316.5" stroke="#222" stroke-width="1"/>
<line x1="396.6" y1="322.5" x2="413.5" y2="322.5" stroke="#222" stroke-width="1"/>
<line x1="397" y1="319.5" x2="420" y2="319.5" stroke="#555" stroke-width="0.8" stroke-dasharray="9 2 1.5 2"/>
<line x1="197" y1="460.5" x2="211" y2="460.5" stroke="#000" stroke-width="1" stroke-dasharray="5 2 1.5 2"/>
</g>
</svg></body></html>
